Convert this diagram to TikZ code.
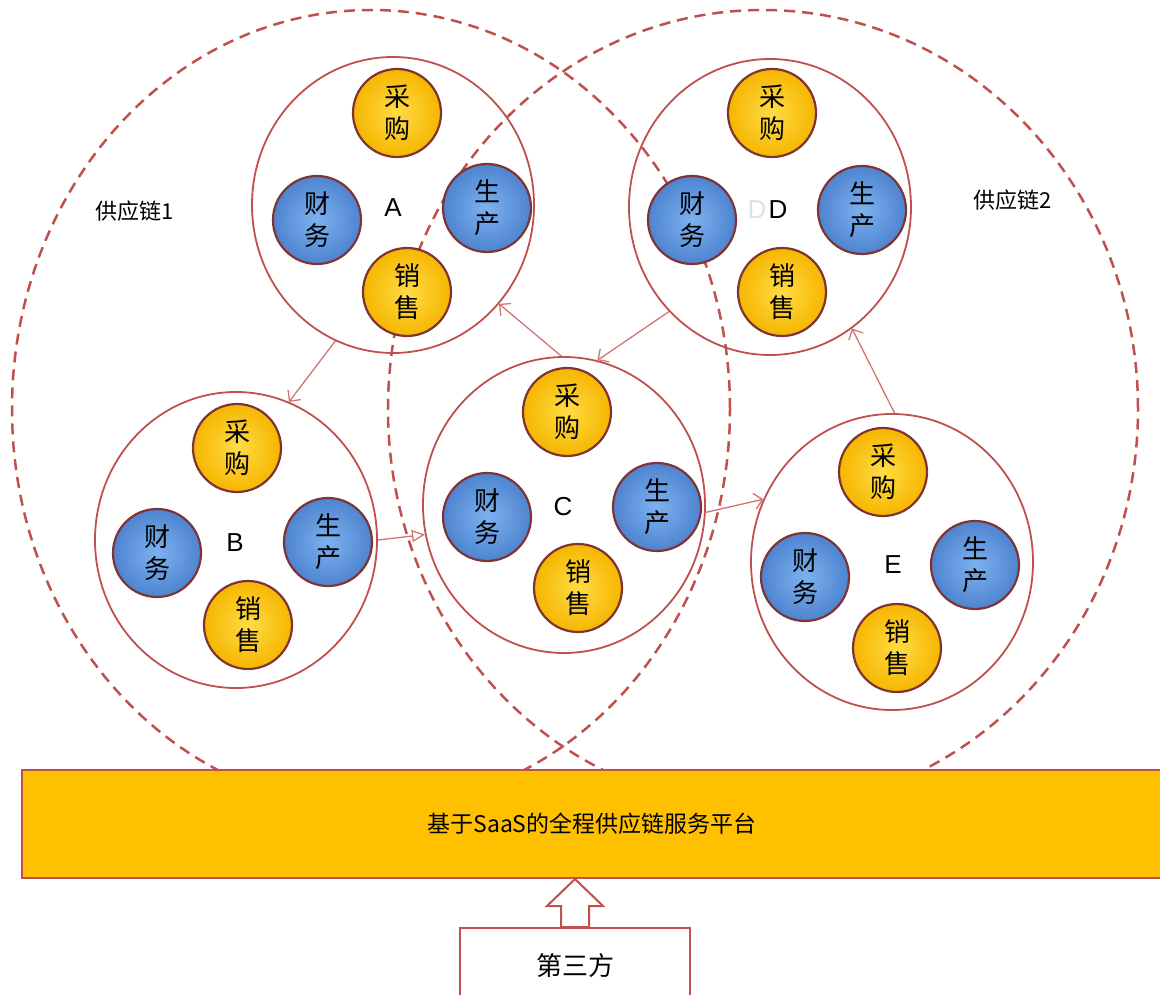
\documentclass[tikz,border=0pt]{standalone}
\usepackage{fontspec}
\setmainfont{Liberation Sans}
\newfontfamily\cjk{Noto Sans CJK SC}
\usetikzlibrary{shapes.geometric,arrows.meta,calc}
\definecolor{chainred}{HTML}{C0504D}
\definecolor{arrowred}{HTML}{D07474}
\definecolor{barfill}{HTML}{FFC000}
\definecolor{yin}{HTML}{FFDC45}
\definecolor{yout}{HTML}{F6B600}
\definecolor{bin}{HTML}{7DB2EF}
\definecolor{bout}{HTML}{4E84D0}
\definecolor{ballrim}{HTML}{7E3434}
\begin{document}
\begin{tikzpicture}[x=1pt,y=-1pt,
  chainring/.style={ellipse, draw=chainred, line width=2.5pt, dash pattern=on 11pt off 7pt, inner sep=0pt},
  company/.style={ellipse, draw=chainred, line width=1.8pt, minimum width=282pt, minimum height=296pt, inner sep=0pt},
  ball/.style={circle, minimum size=88pt, inner sep=0pt, draw=ballrim, line width=2.2pt, align=center, font=\cjk\fontsize{26}{32}\selectfont},
  yball/.style={ball, shading=radial, inner color=yin, outer color=yout},
  bball/.style={ball, shading=radial, inner color=bin, outer color=bout},
  letter/.style={font=\fontsize{26}{30}\selectfont, inner sep=0pt},
  chainlabel/.style={font=\cjk\fontsize{22}{24}\selectfont, inner sep=0pt},
  conn/.style={draw=arrowred, line width=1.3pt, -{Straight Barb[length=8pt, width=16pt, line width=1.3pt]}},
  conntri/.style={draw=arrowred, line width=1.3pt, -{Triangle[open, length=13pt, width=12pt, line width=1.3pt]}},
  platform/.style={rectangle, fill=barfill, draw=chainred, line width=2pt, minimum width=1140pt, minimum height=108pt, font=\cjk\fontsize{23}{26}\selectfont},
  partybox/.style={rectangle, fill=white, draw=chainred, line width=2pt, minimum width=230pt, minimum height=76pt, font=\cjk\fontsize{26}{28}\selectfont},
  hollowarrow/.style={fill=white, draw=chainred, line width=2pt, line join=miter}
]
\useasboundingbox (0,0) rectangle (1160,995);

% supply chains
\node[chainring, minimum width=718pt, minimum height=798pt] (sc1) at (371,409) {};
\node[chainring, minimum width=750pt, minimum height=798pt] (sc2) at (763,409) {};
\node[chainlabel] (sc1l) at (135,211) {供应链1};
\node[chainlabel] (sc2l) at (1013,200) {供应链2};

% companies
\node[company] (A) at (393,205) {};
\node[company] (B) at (236,540) {};
\node[company] (C) at (564,505) {};
\node[company] (D) at (770,207) {};
\node[company] (E) at (892,562) {};

\node[letter] (lA) at (393,208) {A};
\node[letter] (lB) at (235,543) {B};
\node[letter] (lC) at (563,507) {C};
\node[letter, text=black!12] (lDg) at (757,210) {D};
\node[letter] (lD) at (778,210) {D};
\node[letter] (lE) at (893,565) {E};

% departments A
\node[yball] (Acg) at (397,113) {采\\购};
\node[bball] (Acw) at (317,220) {财\\务};
\node[bball] (Asc) at (487,208) {生\\产};
\node[yball] (Axs) at (407,292) {销\\售};
% B
\node[yball] (Bcg) at (237,448) {采\\购};
\node[bball] (Bcw) at (157,553) {财\\务};
\node[bball] (Bsc) at (328,542) {生\\产};
\node[yball] (Bxs) at (248,625) {销\\售};
% C
\node[yball] (Ccg) at (567,412) {采\\购};
\node[bball] (Ccw) at (487,517) {财\\务};
\node[bball] (Csc) at (657,507) {生\\产};
\node[yball] (Cxs) at (578,588) {销\\售};
% D
\node[yball] (Dcg) at (772,113) {采\\购};
\node[bball] (Dcw) at (692,220) {财\\务};
\node[bball] (Dsc) at (862,210) {生\\产};
\node[yball] (Dxs) at (782,292) {销\\售};
% E
\node[yball] (Ecg) at (883,472) {采\\购};
\node[bball] (Ecw) at (805,577) {财\\务};
\node[bball] (Esc) at (975,565) {生\\产};
\node[yball] (Exs) at (897,648) {销\\售};

% flows
\draw[conn] (A.247) -- (B.69);
\draw[conn] (C.91) -- (A.-43);
\draw[conn] (D.226) -- (C.77);
\draw[conntri] (B.east) -- (C.192);
\draw[conn] (C.-3) -- (E.154);
\draw[conn] (E.89) -- (D.-56);

% platform
\node[platform] (bar) at (592,824) {基于SaaS的全程供应链服务平台};
\node[partybox] (third) at (575,966) {第三方};
\coordinate (tip) at (bar.south -| third.north);
\draw[hollowarrow] (tip) -- ($(tip)+(28,27)$) -- ($(tip)+(14,27)$) -- ($(third.north)+(14,0)$)
  -- ($(third.north)+(-14,0)$) -- ($(tip)+(-14,27)$) -- ($(tip)+(-28,27)$) -- cycle;
\end{tikzpicture}
\end{document}
